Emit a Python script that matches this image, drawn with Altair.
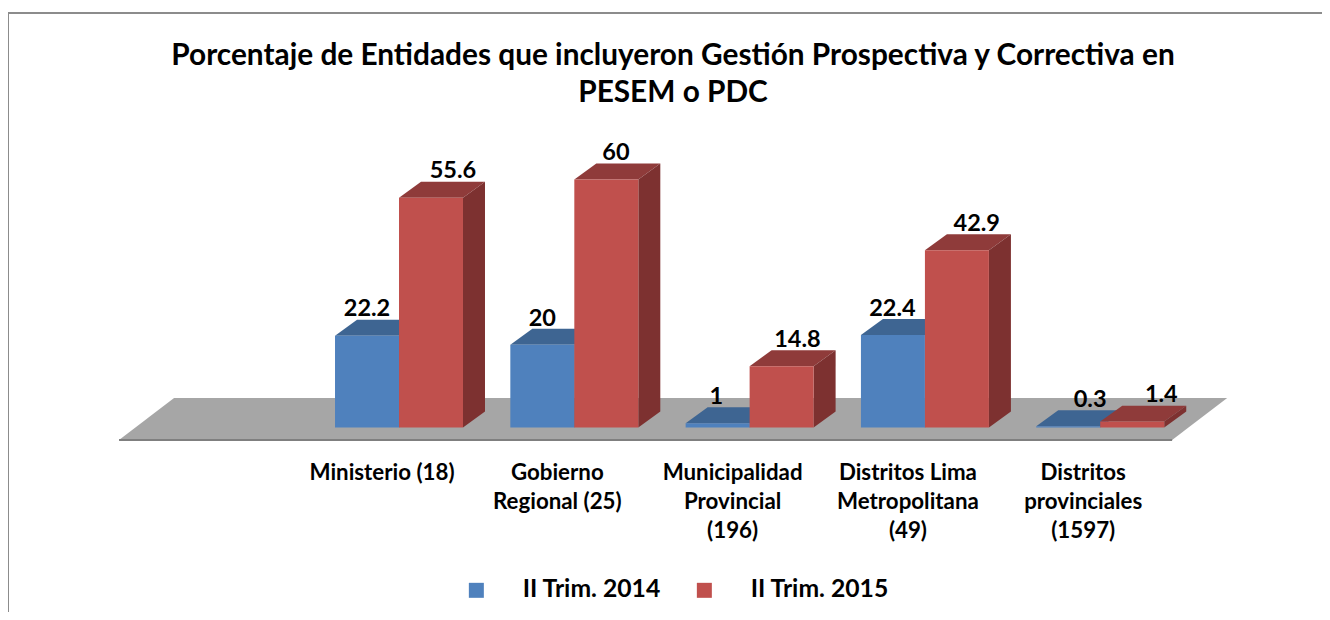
import altair as alt
import pandas as pd

categories = ["Ministerio (18)", "Gobierno\nRegional (25)", "Municipalidad\nProvincial\n(196)",
              "Distritos Lima\nMetropolitana\n(49)", "Distritos\nprovinciales\n(1597)"]
series = ["II Trim. 2014", "II Trim. 2015"]
values_2014 = [22.2, 20, 1, 22.4, 0.3]
values_2015 = [55.6, 60, 14.8, 42.9, 1.4]
label_text_2014 = ["22.2", "20", "1", "22.4", "0.3"]
label_text_2015 = ["55.6", "60", "14.8", "42.9", "1.4"]
# horizontal nudge of each value label from its bar's centre (group widths)
label_shift_2014 = [0.0, 0.0, -0.008, -0.003, 0.125]
label_shift_2015 = [0.125, 0.055, 0.09, 0.113, 0.166]
title_lines = ["Porcentaje de Entidades que incluyeron Gestión Prospectiva y Correctiva  en", "PESEM o PDC"]

FRONT = ["#4F81BD", "#C0504D"]
TOP = ["#3E6592", "#8F3B3A"]
SIDE = ["#3A5F8B", "#7D3130"]
FONT = "Lato"

# Scales: x in group widths, y in percent
x_scale = alt.Scale(domain=[-1.8654, 5.630], nice=False, zero=False)
y_scale = alt.Scale(domain=[-44.7, 101.55], nice=False, zero=False)
BAR = 0.365
DX = 0.1255
DY = 3.87
X = lambda f, **k: alt.X(f, type="quantitative", scale=x_scale, axis=None, **k)
Y = lambda f, **k: alt.Y(f, type="quantitative", scale=y_scale, axis=None, **k)

values = [values_2014, values_2015]
front_rows, top_rows, side_rows, label_rows = [], [], [], []
shifts = [label_shift_2014, label_shift_2015]
texts = [label_text_2014, label_text_2015]
for s, name in enumerate(series):
    for i, v in enumerate(values[s]):
        left = i + s * BAR
        right = left + BAR
        front_rows.append(dict(series=name, x=left, x2=right, y=v, y2=0))
        top_rows += [dict(series=name, id=i, y=v, x=left, x2=right),
                     dict(series=name, id=i, y=v + DY, x=left + DX, x2=right + DX)]
        side_rows += [dict(series=name, id=i, x=right, y=v, y2=0),
                      dict(series=name, id=i, x=right + DX, y=v + DY, y2=DY)]
        label_rows.append(dict(series=name, x=left + BAR / 2 + shifts[s][i], y=v + DY + 0.8, t=texts[s][i]))
front = pd.DataFrame(front_rows)
top = pd.DataFrame(top_rows)
side = pd.DataFrame(side_rows)
labels = pd.DataFrame(label_rows)
cats = pd.DataFrame(dict(c=categories, x=[i + BAR - 0.097 for i in range(5)], y=[-12.7] * 5))

floor = pd.DataFrame([dict(y=-3.05, x=-1.232, x2=4.775), dict(y=7.12, x=-0.9183, x2=5.089)])

layers = [
    alt.Chart(pd.DataFrame({"a": [0]})).mark_rule(color="#8C8C8C", strokeWidth=2).encode(
        x=alt.value(0), x2=alt.value(1314), y=alt.value(5)),
    alt.Chart(pd.DataFrame({"a": [0]})).mark_rule(color="#8C8C8C", strokeWidth=2).encode(
        x=alt.value(0), y=alt.value(5), y2=alt.value(604)),
    alt.Chart(floor).mark_area(orient="horizontal", color="#A6A6A6").encode(
        y=Y("y"), x=X("x"), x2="x2"),
    alt.Chart(floor[:1]).mark_rule(color="#7F7F7F", strokeWidth=2).encode(
        y=Y("y"), x=X("x"), x2="x2"),
]
for s, name in enumerate(series):
    layers += [
        alt.Chart(top[top.series == name]).mark_area(orient="horizontal", color=TOP[s]).encode(
            y=Y("y"), x=X("x"), x2="x2", detail="id:N"),
        alt.Chart(side[side.series == name]).mark_area(orient="vertical", color=SIDE[s]).encode(
            x=X("x"), y=Y("y"), y2="y2", detail="id:N"),
        alt.Chart(front[front.series == name]).mark_rect().encode(
            x=X("x"), x2="x2", y=Y("y"), y2="y2",
            color=alt.Color("series:N", scale=alt.Scale(domain=series, range=FRONT),
                            legend=alt.Legend(title=None, orient="none", legendX=456, legendY=569.5,
                                              direction="horizontal", symbolType="square", symbolSize=225,
                                              symbolStrokeWidth=0, labelFont=FONT, labelFontWeight="bold",
                                              labelFontSize=24.7, labelColor="black", labelOffset=34,
                                              columnPadding=31, labelLimit=300, padding=0)),
        ),
    ]
layers += [
    alt.Chart(labels).mark_text(font=FONT, fontWeight="bold", fontSize=23.5, color="black",
                                baseline="alphabetic", align="center").encode(
        x=X("x"), y=Y("y"), text="t:N"),
    alt.Chart(cats).mark_text(font=FONT, fontWeight="bold", fontSize=22.3, color="black", lineBreak="\n",
                              lineHeight=29, baseline="alphabetic", align="center").encode(
        x=X("x"), y=Y("y"), text="c:N"),
]

chart = alt.layer(*layers).properties(
    width=1314, height=604,
    padding=0,
    autosize=alt.AutoSizeParams(type="none"),
    background="white",
    title=alt.TitleParams(text=title_lines, font=FONT, fontWeight="bold", fontSize=29.8, color="black",
                          anchor="middle", lineHeight=37, offset=0, dy=100, dx=8),
).configure_view(stroke=None)
chart.save("out.html", embed_options={"renderer": "svg", "actions": False})
